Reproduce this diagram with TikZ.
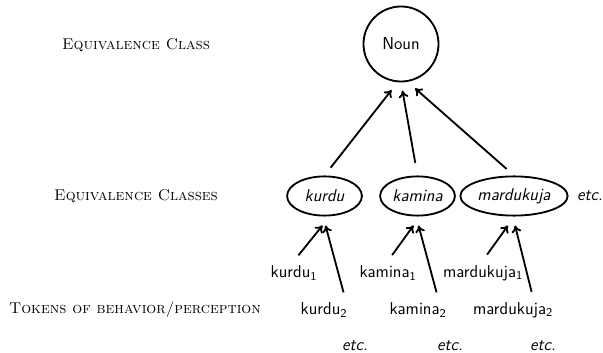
\documentclass[tikz,border=0pt]{standalone}
\usepackage{tikz}
\usetikzlibrary{calc, shapes.geometric, positioning, arrows.meta}

\begin{document}
\begin{tikzpicture}[x=0.025cm, y=-0.025cm,
    nivel/.style={font=\fontsize{11.1}{13}\selectfont\scshape},
    clase/.style={draw, ellipse, line width=1.3pt, minimum height=0.98cm, inner sep=1pt,
                  font=\fontsize{12.2}{14}\sffamily\itshape},
    token/.style={font=\fontsize{12.2}{14}\sffamily},
    otros/.style={font=\fontsize{12.2}{14}\sffamily\itshape, inner sep=1pt},
    flecha/.style={-{To[length=5pt,width=7pt]}, line width=1.3pt}]
    \useasboundingbox (0,0) rectangle (603,353);

    % Niveles
    \node[nivel] (n1) at (136,45) {Equivalence Class};
    \node[nivel] (n2) at (136,196) {Equivalence Classes};
    \node[nivel] (n3) at (135,310) {Tokens of behavior/perception};

    % Clase superior
    \node[draw, circle, line width=1.3pt, minimum size=1.875cm, font=\fontsize{12.2}{14}\sffamily] (noun) at (401,44) {Noun};

    % Clases de equivalencia
    \node[clase, minimum width=1.87cm] (kurdu) at (324.5,196) {kurdu};
    \node[clase, minimum width=1.775cm] (kamina) at (417.5,196) {kamina};
    \node[clase, minimum width=2.25cm] (marduk) at (514,196) {mardukuja};
    \node[otros] (etc0) at (590,196) {etc.};

    \draw[flecha, shorten <=7, shorten >=7] (kurdu.north) -- (noun.-95);
    \draw[flecha, shorten <=9, shorten >=6] (kamina.north) -- (noun.south);
    \draw[flecha, shorten <=7, shorten >=7] (marduk.north) -- (noun.-80);

    % Tokens
    \node[token] (k1) at (294,273) {kurdu\textsubscript{1}};
    \node[token] (k2) at (324,310) {kurdu\textsubscript{2}};
    \node[token] (ka1) at (388,273) {kamina\textsubscript{1}};
    \node[token] (ka2) at (418,310) {kamina\textsubscript{2}};
    \node[token] (m1) at (483,273) {mardukuja\textsubscript{1}};
    \node[token] (m2) at (513,310) {mardukuja\textsubscript{2}};

    \draw[flecha, shorten <=5] (k1.north) -- ($(kurdu.south)+(-2,9)$);
    \draw[flecha, shorten <=4] ($(k2.north)+(21,0)$) -- ($(kurdu.south)+(1,9)$);
    \draw[flecha, shorten <=5] (ka1.north) -- ($(kamina.south)+(-4,9)$);
    \draw[flecha, shorten <=4] ($(ka2.north)+(20,0)$) -- ($(kamina.south)+(1,9)$);
    \draw[flecha, shorten <=5] (m1.north) -- ($(marduk.south)+(-6,9)$);
    \draw[flecha, shorten <=4] ($(m2.north)+(20,0)$) -- ($(marduk.south)+(1,9)$);

    % etc.
    \node[otros] (etc1) at (355,346) {etc.};
    \node[otros] (etc2) at (450,346) {etc.};
    \node[otros] (etc3) at (543,346) {etc.};
\end{tikzpicture}
\end{document}
